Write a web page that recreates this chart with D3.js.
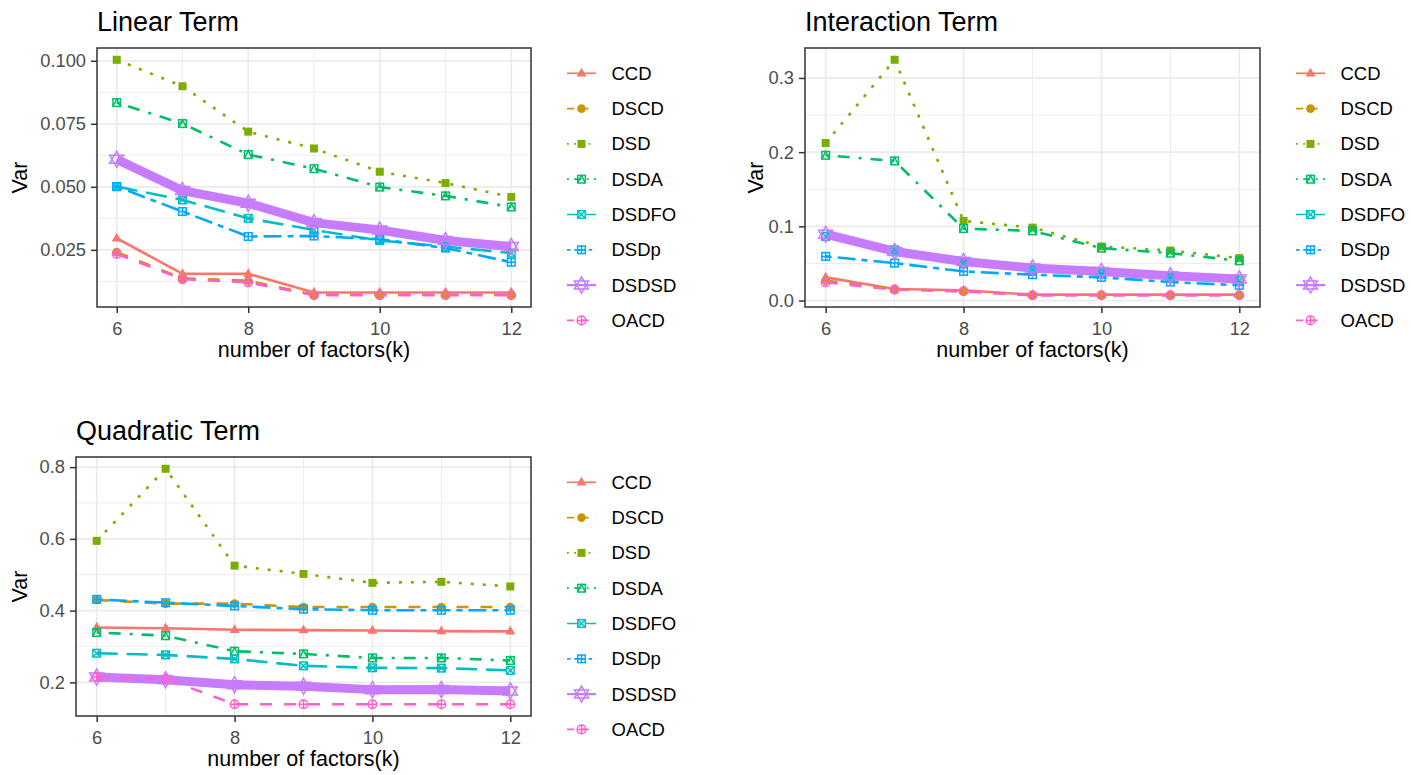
<!DOCTYPE html>
<html>
<head>
<meta charset="utf-8">
<script src="https://cdn.jsdelivr.net/npm/d3@7"></script>
<style>
  body { margin: 0; background: #fff; }
  svg { display: block; }
  text { font-family: "Liberation Sans", Arial, Helvetica, sans-serif; }
</style>
</head>
<body>
<svg id="chart" width="1411" height="775"></svg>
<script>
// Designs, in legend order
const designs = ["CCD", "DSCD", "DSD", "DSDA", "DSDFO", "DSDp", "DSDSD", "OACD"];
// Number of factors on the x axis
const factors = [6, 7, 8, 9, 10, 11, 12];

// Variance of the linear-term estimates, one row per design
const linearTerm = [
  [0.0296, 0.0155, 0.0155, 0.0081, 0.0081, 0.0081, 0.0081],
  [0.0241, 0.0137, 0.0128, 0.0072, 0.0072, 0.0072, 0.0072],
  [0.1004, 0.0899, 0.0719, 0.0652, 0.0560, 0.0515, 0.0460],
  [0.0834, 0.0751, 0.0628, 0.0572, 0.0499, 0.0464, 0.0420],
  [0.0501, 0.0448, 0.0375, 0.0329, 0.0287, 0.0263, 0.0237],
  [0.0501, 0.0402, 0.0303, 0.0305, 0.0292, 0.0257, 0.0201],
  [0.0609, 0.0485, 0.0435, 0.0358, 0.0329, 0.0287, 0.0263],
  [0.0234, 0.0134, 0.0121, 0.0070, 0.0070, 0.0070, 0.0070]
];

// Variance of the two-factor interaction estimates
const interactionTerm = [
  [0.0313, 0.0156, 0.0139, 0.0080, 0.0080, 0.0080, 0.0080],
  [0.0268, 0.0156, 0.0125, 0.0072, 0.0072, 0.0072, 0.0072],
  [0.2123, 0.3245, 0.1073, 0.0983, 0.0729, 0.0675, 0.0572],
  [0.1958, 0.1882, 0.0970, 0.0939, 0.0706, 0.0639, 0.0536],
  [0.0863, 0.0684, 0.0505, 0.0416, 0.0362, 0.0313, 0.0268],
  [0.0595, 0.0505, 0.0393, 0.0349, 0.0313, 0.0250, 0.0206],
  [0.0894, 0.0662, 0.0527, 0.0438, 0.0393, 0.0335, 0.0291],
  [0.0246, 0.0148, 0.0125, 0.0072, 0.0072, 0.0072, 0.0072]
];

// Variance of the quadratic-term estimates
const quadraticTerm = [
  [0.3530, 0.3510, 0.3466, 0.3456, 0.3447, 0.3429, 0.3420],
  [0.4295, 0.4194, 0.4194, 0.4101, 0.4101, 0.4101, 0.4101],
  [0.5945, 0.7954, 0.5254, 0.5023, 0.4774, 0.4802, 0.4673],
  [0.3390, 0.3300, 0.2867, 0.2793, 0.2680, 0.2680, 0.2610],
  [0.2812, 0.2765, 0.2654, 0.2460, 0.2406, 0.2397, 0.2333],
  [0.4313, 0.4220, 0.4130, 0.4040, 0.4010, 0.4010, 0.4010],
  [0.2148, 0.2074, 0.1935, 0.1890, 0.1797, 0.1800, 0.1760],
  [0.2148, 0.2100, 0.1390, 0.1390, 0.1390, 0.1390, 0.1390]
];

// Axis tick labels
const xTicks = [6, 8, 10, 12];
const linearTicks = [0.025, 0.050, 0.075, 0.100];
const interactionTicks = [0.0, 0.1, 0.2, 0.3];
const quadraticTicks = [0.2, 0.4, 0.6, 0.8];

// Styling per design
const colors = ["#F8766D", "#CD9600", "#7CAE00", "#00BE67", "#00BFC4", "#00A9FF", "#C77CFF", "#FF61CC"];
const linetypes = ["solid", "dashed", "dotted", "dotdash", "longdash", "twodash", "solid", "dashed"];
const shapes = ["triangle", "circle", "square", "squareTriangle", "squareCross", "squarePlus", "star", "circlePlus"];

const dashUnits = {
  solid: null,
  dashed: [4, 4],
  dotted: [1, 3],
  dotdash: [1, 3, 4, 3],
  longdash: [7, 3],
  twodash: [2, 2, 6, 2]
};
function dashArray(type, unit) {
  const d = dashUnits[type];
  return d ? d.map(v => v * unit).join(",") : null;
}

const svg = d3.select("#chart");
const FONT_TICK = 18.3, FONT_AXIS = 21.5, FONT_TITLE = 27, FONT_LEGEND = 18.5;

function drawShape(g, shape, cx, cy, color) {
  const s = g.append("g").attr("transform", `translate(${cx},${cy})`);
  const sw = 1.5;
  switch (shape) {
    case "triangle":
      s.append("path").attr("d", "M0,-5.6L5,3.2L-5,3.2Z").attr("fill", color);
      break;
    case "circle":
      s.append("circle").attr("r", 4.3).attr("fill", color);
      break;
    case "square":
      s.append("rect").attr("x", -4).attr("y", -4).attr("width", 8).attr("height", 8).attr("fill", color);
      break;
    case "squareTriangle":
      s.append("rect").attr("x", -3.8).attr("y", -3.8).attr("width", 7.6).attr("height", 7.6)
        .attr("fill", "none").attr("stroke", color).attr("stroke-width", sw);
      s.append("path").attr("d", "M-3.8,3.8L0,-3.8L3.8,3.8").attr("fill", "none").attr("stroke", color).attr("stroke-width", sw);
      break;
    case "squareCross":
      s.append("rect").attr("x", -3.8).attr("y", -3.8).attr("width", 7.6).attr("height", 7.6)
        .attr("fill", "none").attr("stroke", color).attr("stroke-width", sw);
      s.append("path").attr("d", "M-3.8,-3.8L3.8,3.8M-3.8,3.8L3.8,-3.8").attr("stroke", color).attr("stroke-width", sw);
      break;
    case "squarePlus":
      s.append("rect").attr("x", -3.8).attr("y", -3.8).attr("width", 7.6).attr("height", 7.6)
        .attr("fill", "none").attr("stroke", color).attr("stroke-width", sw);
      s.append("path").attr("d", "M0,-3.8L0,3.8M-3.8,0L3.8,0").attr("stroke", color).attr("stroke-width", sw);
      break;
    case "star":
      s.append("path").attr("d", "M0,-8L7,4L-7,4Z M0,8L7,-4L-7,-4Z")
        .attr("fill", "none").attr("stroke", color).attr("stroke-width", sw);
      break;
    case "circlePlus":
      s.append("circle").attr("r", 4.3).attr("fill", "none").attr("stroke", color).attr("stroke-width", sw);
      s.append("path").attr("d", "M0,-4.3L0,4.3M-4.3,0L4.3,0").attr("stroke", color).attr("stroke-width", sw);
      break;
  }
}

function drawPanel(cfg) {
  const g = svg.append("g");
  const x = d3.scaleLinear()
    .domain([factors[0] - 0.05 * (factors[factors.length - 1] - factors[0]),
             factors[factors.length - 1] + 0.05 * (factors[factors.length - 1] - factors[0])])
    .range([cfg.left, cfg.right]);
  const [lo, hi] = d3.extent(cfg.values.flat());
  const pad = (hi - lo) * 0.05;
  const y = d3.scaleLinear().domain([lo - pad, hi + pad]).range([cfg.bottom, cfg.top]);

  // panel background
  g.append("rect").attr("x", cfg.left).attr("y", cfg.top)
    .attr("width", cfg.right - cfg.left).attr("height", cfg.bottom - cfg.top).attr("fill", "#fff");

  // minor grid
  const step = cfg.yTicks[1] - cfg.yTicks[0];
  const yMinor = [cfg.yTicks[0] - step / 2].concat(cfg.yTicks.map(t => t + step / 2))
    .filter(v => v > y.domain()[0] && v < y.domain()[1]);
  const xMinor = [7, 9, 11];
  const grid = g.append("g");
  grid.selectAll(".ymin").data(yMinor).join("line")
    .attr("x1", cfg.left).attr("x2", cfg.right).attr("y1", d => y(d)).attr("y2", d => y(d))
    .attr("stroke", "#EBEBEB").attr("stroke-width", 0.9);
  grid.selectAll(".xmin").data(xMinor).join("line")
    .attr("y1", cfg.top).attr("y2", cfg.bottom).attr("x1", d => x(d)).attr("x2", d => x(d))
    .attr("stroke", "#EBEBEB").attr("stroke-width", 0.9);
  // major grid
  grid.selectAll(".ymaj").data(cfg.yTicks).join("line")
    .attr("x1", cfg.left).attr("x2", cfg.right).attr("y1", d => y(d)).attr("y2", d => y(d))
    .attr("stroke", "#EBEBEB").attr("stroke-width", 1.7);
  grid.selectAll(".xmaj").data(xTicks).join("line")
    .attr("y1", cfg.top).attr("y2", cfg.bottom).attr("x1", d => x(d)).attr("x2", d => x(d))
    .attr("stroke", "#EBEBEB").attr("stroke-width", 1.7);

  // lines
  const line = d3.line().x((d, i) => x(factors[i])).y(d => y(d));
  const plot = g.append("g");
  cfg.values.forEach((row, k) => {
    plot.append("path").datum(row)
      .attr("d", line)
      .attr("fill", "none")
      .attr("stroke", colors[k])
      .attr("stroke-width", designs[k] === "DSDSD" ? 9 : 2.6)
      .attr("stroke-linejoin", "round")
      .attr("stroke-dasharray", dashArray(linetypes[k], 3));
  });
  // points
  cfg.values.forEach((row, k) => {
    row.forEach((v, i) => drawShape(plot, shapes[k], x(factors[i]), y(v), colors[k]));
  });

  // panel border
  g.append("rect").attr("x", cfg.left).attr("y", cfg.top)
    .attr("width", cfg.right - cfg.left).attr("height", cfg.bottom - cfg.top)
    .attr("fill", "none").attr("stroke", "#333333").attr("stroke-width", 1.5);

  // axes
  const xAxis = g.append("g").attr("transform", `translate(0,${cfg.bottom})`)
    .call(d3.axisBottom(x).tickValues(xTicks).tickFormat(d3.format("d")).tickSize(6).tickPadding(9));
  const yAxis = g.append("g").attr("transform", `translate(${cfg.left},0)`)
    .call(d3.axisLeft(y).tickValues(cfg.yTicks).tickFormat(d3.format(cfg.fmt)).tickSize(6).tickPadding(5));
  [xAxis, yAxis].forEach(a => {
    a.select(".domain").remove();
    a.selectAll(".tick line").attr("stroke", "#333333").attr("stroke-width", 1.5);
    a.selectAll(".tick text").attr("fill", "#4D4D4D").attr("font-size", FONT_TICK)
      .style("font-family", "'Liberation Sans', Arial, sans-serif");
  });

  // titles
  g.append("text").attr("x", cfg.left).attr("y", cfg.top - 17)
    .attr("font-size", FONT_TITLE).attr("fill", "#000").text(cfg.title);
  g.append("text").attr("x", (cfg.left + cfg.right) / 2).attr("y", cfg.bottom + 50)
    .attr("text-anchor", "middle").attr("font-size", FONT_AXIS).attr("fill", "#000")
    .text("number of factors(k)");
  g.append("text")
    .attr("transform", `translate(${cfg.yTitleX},${(cfg.top + cfg.bottom) / 2}) rotate(-90)`)
    .attr("text-anchor", "middle").attr("font-size", FONT_AXIS).attr("fill", "#000").text("Var");

  // legend
  const lg = g.append("g");
  designs.forEach((name, k) => {
    const ly = cfg.top + 25.3 + k * 35.3;
    lg.append("line").attr("x1", cfg.legendX).attr("x2", cfg.legendX + 29)
      .attr("y1", ly).attr("y2", ly)
      .attr("stroke", colors[k]).attr("stroke-width", name === "DSDSD" ? 2.2 : 1.7)
      .attr("stroke-dasharray", dashArray(linetypes[k], 1.8));
    drawShape(lg, shapes[k], cfg.legendX + 14.5, ly, colors[k]);
    lg.append("text").attr("x", cfg.legendX + 44.5).attr("y", ly).attr("dy", "0.35em")
      .attr("font-size", FONT_LEGEND).attr("fill", "#000").text(name);
  });
}

drawPanel({ title: "Linear Term", values: linearTerm, yTicks: linearTicks, fmt: ".3f",
  left: 97, right: 531, top: 48, bottom: 307, yTitleX: 27, legendX: 567 });
drawPanel({ title: "Interaction Term", values: interactionTerm, yTicks: interactionTicks, fmt: ".1f",
  left: 805, right: 1260, top: 48, bottom: 307, yTitleX: 763, legendX: 1296 });
drawPanel({ title: "Quadratic Term", values: quadraticTerm, yTicks: quadraticTicks, fmt: ".1f",
  left: 76, right: 531, top: 457, bottom: 716, yTitleX: 27, legendX: 567 });
</script>
</body>
</html>
